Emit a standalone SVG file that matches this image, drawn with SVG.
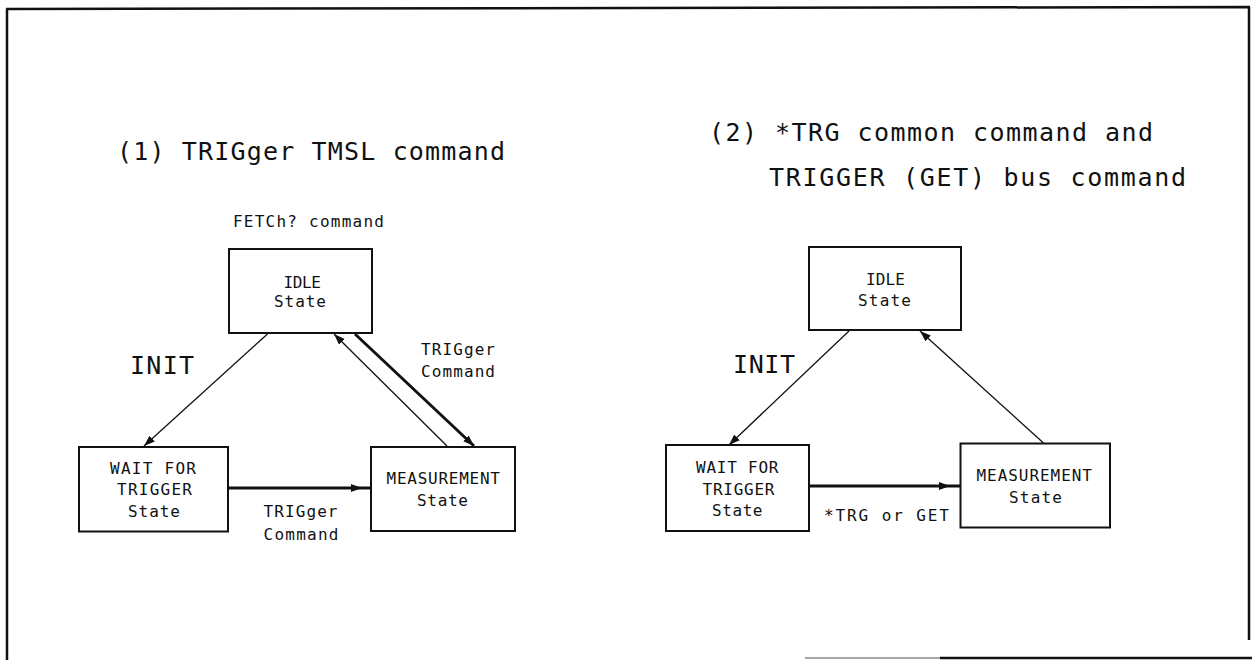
<svg xmlns="http://www.w3.org/2000/svg" width="1252" height="660" viewBox="0 0 1252 660">
<defs>
<style>
.t{font-family:"DejaVu Sans Mono","Liberation Mono",monospace;fill:#111;}
.big{font-size:25px;}
.sm{font-size:16px;}
.box{fill:#fff;stroke:#111;stroke-width:2;}
.c{fill:none;stroke:#111;stroke-width:1.3;}
.thick{stroke-width:3;}
.frame{fill:none;stroke:#111;stroke-width:2.5;}
</style>
<marker id="ah" markerUnits="userSpaceOnUse" markerWidth="12" markerHeight="10" refX="11" refY="4" orient="auto">
<path d="M0,0 L11,4 L0,8 z" fill="#111"/>
</marker>
</defs>
<rect width="1252" height="660" fill="#fff"/>
<g id="frame">
<path class="frame" d="M6,9 L1250,7 M7,9 L7,660 M1249,7 L1249,640 M940,658 L1252,658"/>
<path d="M805,658 L940,658" stroke="#888" stroke-width="1.5" fill="none"/>
</g>
<g id="titles">
<text class="t big" x="117" y="160" textLength="388" lengthAdjust="spacing">(1) TRIGger TMSL command</text>
<text class="t big" x="709" y="141" textLength="444" lengthAdjust="spacing">(2) *TRG common command and</text>
<text class="t big" x="769" y="186" textLength="417" lengthAdjust="spacing">TRIGGER (GET) bus command</text>
</g>
<g id="connectors">
<path class="c" d="M267.5,334 L144,446" marker-end="url(#ah)"/>
<path class="c" d="M447,446 L334,334" marker-end="url(#ah)"/>
<path class="c thick" d="M355,334 L474,446" marker-end="url(#ah)"/>
<path class="c thick" d="M228,488 L362,488 L371,488" marker-mid="url(#ah)"/>
<path class="c" d="M849,331 L729,445" marker-end="url(#ah)"/>
<path class="c" d="M1043.5,443 L920,331" marker-end="url(#ah)"/>
<path class="c thick" d="M809,486 L950,486 L960,486" marker-mid="url(#ah)"/>
</g>
<g id="labels">
<text class="t sm" x="233" y="227" textLength="151" lengthAdjust="spacing">FETCh? command</text>
<text class="t big" x="130" y="374" textLength="64" lengthAdjust="spacing">INIT</text>
<text class="t sm" x="421" y="355" textLength="74" lengthAdjust="spacing">TRIGger</text>
<text class="t sm" x="421" y="377" textLength="74" lengthAdjust="spacing">Command</text>
<text class="t sm" x="263.5" y="517" textLength="74" lengthAdjust="spacing">TRIGger</text>
<text class="t sm" x="263.5" y="539.5" textLength="75" lengthAdjust="spacing">Command</text>
<text class="t big" x="733" y="372.5" textLength="62" lengthAdjust="spacing">INIT</text>
<text class="t sm" x="824" y="520.5" textLength="125" lengthAdjust="spacing">*TRG or GET</text>
</g>
<g id="idle1">
<rect class="box" x="229" y="249" width="143" height="84"/>
<text class="t sm" x="283.5" y="287.5" textLength="37.5" lengthAdjust="spacing">IDLE</text>
<text class="t sm" x="274" y="307" textLength="52" lengthAdjust="spacing">State</text>
</g>
<g id="wait1">
<rect class="box" x="79" y="447" width="149" height="84.5"/>
<text class="t sm" x="110" y="473.5" textLength="86" lengthAdjust="spacing">WAIT FOR</text>
<text class="t sm" x="117" y="495" textLength="75" lengthAdjust="spacing">TRIGGER</text>
<text class="t sm" x="128" y="517" textLength="52" lengthAdjust="spacing">State</text>
</g>
<g id="meas1">
<rect class="box" x="371" y="447" width="144" height="84"/>
<text class="t sm" x="386.5" y="484" textLength="113.5" lengthAdjust="spacing">MEASUREMENT</text>
<text class="t sm" x="417" y="506" textLength="51" lengthAdjust="spacing">State</text>
</g>
<g id="idle2">
<rect class="box" x="809" y="247" width="152" height="83"/>
<text class="t sm" x="866" y="284.5" textLength="39" lengthAdjust="spacing">IDLE</text>
<text class="t sm" x="858" y="306" textLength="53" lengthAdjust="spacing">State</text>
</g>
<g id="wait2">
<rect class="box" x="666" y="445" width="143" height="86"/>
<text class="t sm" x="696" y="473" textLength="82.5" lengthAdjust="spacing">WAIT FOR</text>
<text class="t sm" x="702.5" y="495" textLength="72" lengthAdjust="spacing">TRIGGER</text>
<text class="t sm" x="712" y="516" textLength="50.5" lengthAdjust="spacing">State</text>
</g>
<g id="meas2">
<rect class="box" x="960.5" y="443.5" width="149.5" height="84"/>
<text class="t sm" x="976.5" y="481" textLength="115.5" lengthAdjust="spacing">MEASUREMENT</text>
<text class="t sm" x="1009" y="503" textLength="53" lengthAdjust="spacing">State</text>
</g>
</svg>
